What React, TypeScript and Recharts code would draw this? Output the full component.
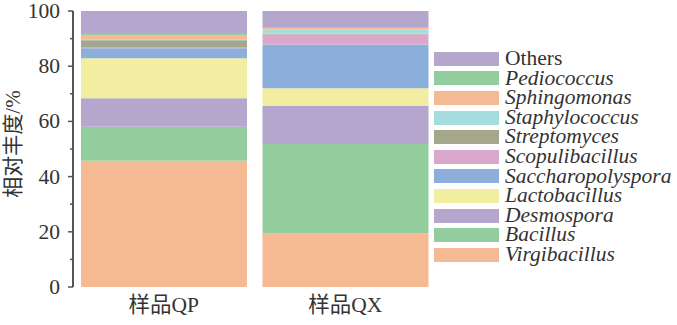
import { BarChart, Bar, XAxis, YAxis } from 'recharts';

const categories = ['样品QP', '样品QX'];
// stacked bottom -> top
const genera = ['Virgibacillus', 'Bacillus', 'Desmospora', 'Lactobacillus', 'Saccharopolyspora', 'Scopulibacillus', 'Streptomyces', 'Staphylococcus', 'Sphingomonas', 'Pediococcus', 'Others'];
const qpValues = [45.7, 12.4, 10.3, 14.5, 3.6, 0.5, 2.4, 0.2, 1.5, 0.9, 8.0];
const qxValues = [19.5, 32.3, 13.8, 6.4, 15.9, 3.6, 0.3, 1.6, 0.4, 0.3, 5.9];
const yTicks = [0, 10, 20, 30, 40, 50, 60, 70, 80, 90, 100];

const colors = ['#F5B993', '#93CC9D', '#B4A6CC', '#F1EEA2', '#8BAEDA', '#DAA8CD', '#A5A78C', '#A7DCDF', '#F5B993', '#93CC9D', '#B4A6CC'];

const serif = "'Liberation Serif', 'DejaVu Serif', 'Noto Sans CJK SC'";
const textColor = '#333';

const data = categories.map((c, i) => {
  const row: Record<string, string | number> = { name: c };
  genera.forEach((g, j) => { row[g] = (i === 0 ? qpValues : qxValues)[j]; });
  return row;
});

const YTick = (props: any) => {
  const { x, y, payload } = props;
  const major = payload.value % 20 === 0;
  return (
    <g>
      <line x1={major ? x + 8 : x + 10} x2={x + 13} y1={y} y2={y} stroke="#555" strokeWidth={1.5} />
      {major && (
        <text x={x} y={y} dy={7} textAnchor="end" style={{ fontSize: 21.5, fontFamily: serif }} fill={textColor}>
          {payload.value}
        </text>
      )}
    </g>
  );
};

const LegendBox = () => (
  <div style={{ position: 'absolute', left: 434, top: 49, fontFamily: serif, color: textColor }}>
    {genera.map((g, i) => genera.length - 1 - i).map((k) => (
      <div key={genera[k]} style={{ display: 'flex', alignItems: 'center', height: 19.6 }}>
        <div style={{ width: 65, height: 14, background: colors[k], marginRight: 6, flexShrink: 0 }} />
        <span style={{ fontSize: 21.5, lineHeight: '19.6px', fontStyle: genera[k] === 'Others' ? 'normal' : 'italic', whiteSpace: 'nowrap' }}>
          {genera[k]}
        </span>
      </div>
    ))}
  </div>
);

export default function App() {
  return (
    <div style={{ position: 'absolute', left: 0, top: 0, width: 677, height: 325, background: '#fff', overflow: 'hidden' }}>
      <BarChart width={677} height={325} data={data} margin={{ top: 11, right: 241, bottom: 8, left: 0 }} barCategoryGap={8}>
        <XAxis dataKey="name" axisLine={false} tickLine={false} height={30} tickMargin={4} interval={0}
          tick={{ fontSize: 21.5, fill: textColor, style: { fontFamily: serif } }} />
        <YAxis width={73} domain={[0, 100]} ticks={yTicks} interval={0} tickSize={5} tickMargin={8}
          tickLine={false} axisLine={{ stroke: '#555', strokeWidth: 2 }} tick={<YTick />}
          label={{ value: '相对丰度/%', angle: -90, position: 'insideLeft', offset: 13, dy: -5,
            style: { textAnchor: 'middle', fontSize: 21, fontFamily: serif, fill: textColor } }} />
        {genera.map((g, i) => (
          <Bar key={g} dataKey={g} stackId="a" fill={colors[i]} isAnimationActive={false} />
        ))}
      </BarChart>
      <LegendBox />
    </div>
  );
}
